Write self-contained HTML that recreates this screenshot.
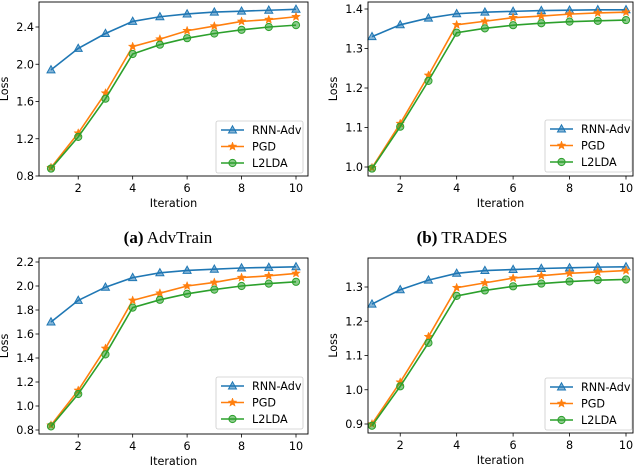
<!DOCTYPE html>
<html><head><meta charset="utf-8"><style>
body{margin:0;background:#fff}
svg{display:block}
text{font-family:"DejaVu Sans","Liberation Sans",sans-serif;font-size:11.2px;fill:#000}
.cap{font-family:"Liberation Serif",serif;font-size:17px}
</style></head><body>
<svg id="fig" width="640" height="465" viewBox="0 0 640 465" xmlns="http://www.w3.org/2000/svg">
<text class="cap" x="168" y="243" text-anchor="middle"><tspan font-weight="bold">(a)</tspan> AdvTrain</text>
<text class="cap" x="462" y="243" text-anchor="middle"><tspan font-weight="bold">(b)</tspan> TRADES</text>
</svg>
<script>
const iterations=[1,2,3,4,5,6,7,8,9,10];
const seriesNames=["RNN-Adv","PGD","L2LDA"];
const aRnn=[1.94,2.17,2.33,2.46,2.51,2.54,2.56,2.57,2.58,2.59];
const aPgd=[0.89,1.26,1.69,2.19,2.27,2.36,2.41,2.46,2.48,2.51];
const aL2=[0.88,1.22,1.63,2.11,2.21,2.28,2.33,2.37,2.40,2.42];
const bRnn=[1.33,1.36,1.377,1.388,1.392,1.394,1.396,1.397,1.398,1.398];
const bPgd=[0.998,1.11,1.232,1.36,1.369,1.378,1.382,1.387,1.390,1.392];
const bL2=[0.996,1.102,1.218,1.34,1.351,1.359,1.364,1.368,1.370,1.372];
const cRnn=[1.70,1.88,1.99,2.07,2.11,2.13,2.14,2.15,2.155,2.16];
const cPgd=[0.84,1.13,1.48,1.88,1.94,2.00,2.03,2.07,2.085,2.105];
const cL2=[0.83,1.10,1.43,1.82,1.885,1.935,1.97,2.00,2.02,2.035];
const dRnn=[1.25,1.292,1.32,1.34,1.348,1.351,1.354,1.356,1.358,1.359];
const dPgd=[0.90,1.022,1.155,1.298,1.312,1.326,1.333,1.340,1.344,1.348];
const dL2=[0.895,1.01,1.137,1.274,1.29,1.302,1.31,1.316,1.32,1.322];
const xTicks=[2,4,6,8,10];
const aYTicks=[0.8,1.2,1.6,2.0,2.4];
const bYTicks=[1.0,1.1,1.2,1.3,1.4];
const cYTicks=[0.8,1.0,1.2,1.4,1.6,1.8,2.0,2.2];
const dYTicks=[0.9,1.0,1.1,1.2,1.3];

const NS="http://www.w3.org/2000/svg";
const svg=document.getElementById('fig');
const colors=["#1f77b4","#ff7f0e","#2ca02c"];
function mk(tag,attrs,parent){const e=document.createElementNS(NS,tag);for(const k in attrs)e.setAttribute(k,attrs[k]);(parent||svg).appendChild(e);return e;}
function marker(g,kind,x,y,c){
  let e;
  if(kind===0){e=mk('polygon',{points:`${x},${y-4.2} ${x-4},${y+3} ${x+4},${y+3}`,fill:c,'fill-opacity':0.55,stroke:c,'stroke-width':1},g);}
  else if(kind===1){let p=[];for(let i=0;i<10;i++){const r=i%2?1.9:4.5;const a=-Math.PI/2+i*Math.PI/5;p.push((x+r*Math.cos(a)).toFixed(2)+','+(y+r*Math.sin(a)).toFixed(2));}
    e=mk('polygon',{points:p.join(' '),fill:c,stroke:c,'stroke-width':0.5},g);}
  else {e=mk('circle',{cx:x,cy:y,r:3.6,fill:c,'fill-opacity':0.55,stroke:c,'stroke-width':1},g);}
  return e;
}
function panel(id,box,xr,yr,yTicks,dec,series,leg){
  const [L,T,R,B]=box;
  const g=mk('g',{});
  
  
  const xs=v=>xr[0]+(v-1)/9*(xr[1]-xr[0]);
  const ys=v=>yr[1]+(v-yr[0])/(yr[2]-yr[0])*(yr[3]-yr[1]);
  series.forEach((vals,si)=>{
    const sg=mk('g',{},g);
    
    
    mk('polyline',{points:vals.map((v,i)=>xs(iterations[i])+','+ys(v)).join(' '),fill:'none',stroke:colors[si],'stroke-width':1.6},sg);
    vals.forEach((v,i)=>{const m=marker(sg,si,xs(iterations[i]),ys(v),colors[si]);
      
      });
  });
  const frame=mk('rect',{x:L,y:T,width:R-L,height:B-T,fill:'none',stroke:'#000','stroke-width':0.9},g);
  
  
  xTicks.forEach(t=>{const x=xs(t);mk('line',{x1:x,x2:x,y1:B,y2:B+3.5,stroke:'#000','stroke-width':0.8},g);
    const tx=mk('text',{x:x,y:B+16,'text-anchor':'middle'},g);tx.textContent=t;
    
    });
  yTicks.forEach(t=>{const y=ys(t);mk('line',{x1:L-3.5,x2:L,y1:y,y2:y,stroke:'#000','stroke-width':0.8},g);
    const tx=mk('text',{x:L-5,y:y+4,'text-anchor':'end'},g);tx.textContent=t.toFixed(dec);
    
    });
  const xl=mk('text',{x:(L+R)/2,y:B+31,'text-anchor':'middle'},g);xl.textContent='Iteration';
  
  
  const yl=mk('text',{x:0,y:0,'text-anchor':'middle',transform:`translate(${L-31},${(T+B)/2}) rotate(-90)`},g);yl.textContent='Loss';
  
  
  const [lx,ly]=leg;
  const lg=mk('g',{},g);
  
  
  mk('rect',{x:lx,y:ly,width:87,height:52,rx:2,fill:'#fff','fill-opacity':0.8,stroke:'#ccc','stroke-width':0.8},lg);
  seriesNames.forEach((n,i)=>{const y=ly+9+i*16.5;
    const e=mk('g',{},lg);
    
    
    mk('line',{x1:lx+5,x2:lx+28,y1:y,y2:y,stroke:colors[i],'stroke-width':1.6},e);
    marker(e,i,lx+16.5,y,colors[i]);
    const t=mk('text',{x:lx+36,y:y+4},e);t.textContent=n;});
}
panel('advtrain-top',[39,2,308,176],[51,296],[0.8,176,2.4,27],aYTicks,1,[aRnn,aPgd,aL2],[216,121]);
panel('trades-top',[368,2,633,176],[372,626],[1.0,167,1.4,9],bYTicks,1,[bRnn,bPgd,bL2],[545,120]);
panel('advtrain-bottom',[39,258,308,434],[51,296],[0.8,430,2.2,262],cYTicks,1,[cRnn,cPgd,cL2],[216,377]);
panel('trades-bottom',[368,258,633,433],[372,626],[0.9,424,1.3,287],dYTicks,1,[dRnn,dPgd,dL2],[545,378]);
</script>
</body></html>
